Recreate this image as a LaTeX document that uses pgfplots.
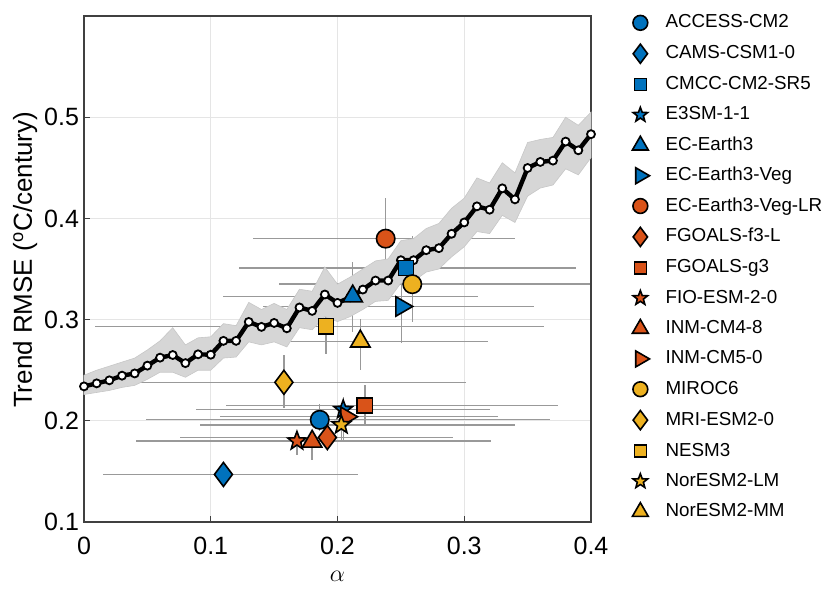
\documentclass[border=0pt]{standalone}
\usepackage{fontspec}
\setmainfont{Liberation Sans}
\usepackage{pgfplots}
\pgfplotsset{compat=1.18}
\usepackage{pgfplotstable}

\definecolor{cblue}{RGB}{0,114,189}
\definecolor{corange}{RGB}{217,83,25}
\definecolor{cyellow}{RGB}{237,177,32}

% filled five-pointed star (MATLAB pentagram)
\pgfdeclareplotmark{pstar}{%
  \pgfpathmoveto{\pgfpointpolar{90}{\pgfplotmarksize}}%
  \pgfpathlineto{\pgfpointpolar{126}{0.42\pgfplotmarksize}}%
  \pgfpathlineto{\pgfpointpolar{162}{\pgfplotmarksize}}%
  \pgfpathlineto{\pgfpointpolar{198}{0.42\pgfplotmarksize}}%
  \pgfpathlineto{\pgfpointpolar{234}{\pgfplotmarksize}}%
  \pgfpathlineto{\pgfpointpolar{270}{0.42\pgfplotmarksize}}%
  \pgfpathlineto{\pgfpointpolar{306}{\pgfplotmarksize}}%
  \pgfpathlineto{\pgfpointpolar{342}{0.42\pgfplotmarksize}}%
  \pgfpathlineto{\pgfpointpolar{18}{\pgfplotmarksize}}%
  \pgfpathlineto{\pgfpointpolar{54}{0.42\pgfplotmarksize}}%
  \pgfpathclose\pgfusepathqfillstroke}

% best-estimate curve
\pgfplotstableread{
x     y
0.00  0.2340
0.01  0.2370
0.02  0.2400
0.03  0.2446
0.04  0.2468
0.05  0.2545
0.06  0.2624
0.07  0.2650
0.08  0.2570
0.09  0.2657
0.10  0.2653
0.11  0.2790
0.12  0.2790
0.13  0.2977
0.14  0.2928
0.15  0.2967
0.16  0.2914
0.17  0.3120
0.18  0.3086
0.19  0.3248
0.20  0.3165
0.21  0.3220
0.22  0.3297
0.23  0.3386
0.24  0.3386
0.25  0.3587
0.26  0.3587
0.27  0.3686
0.28  0.3706
0.29  0.3848
0.30  0.3960
0.31  0.4119
0.32  0.4086
0.33  0.4297
0.34  0.4188
0.35  0.4498
0.36  0.4558
0.37  0.4571
0.38  0.4759
0.39  0.4673
0.40  0.4832
}\bestcurve

% model estimates: x, y and error bar half-widths (minus / plus)
\pgfplotstableread{
x       y       xm      xp      ym      yp
0.1860  0.2010  0.1370  0.1820  0.0110  0.0160
0.1100  0.1470  0.0950  0.1060  0.0000  0.0000
0.2540  0.3510  0.1320  0.1340  0.0210  0.0270
0.2045  0.2110  0.1165  0.1155  0.0310  0.0130
0.2120  0.3230  0.1020  0.0990  0.0350  0.0340
0.2505  0.3130  0.1095  0.1045  0.0360  0.0220
0.2380  0.3800  0.1045  0.1020  0.0350  0.0400
0.1920  0.1835  0.1160  0.0990  0.0135  0.0120
0.2216  0.2152  0.1096  0.1524  0.0192  0.0198
0.1680  0.1800  0.1270  0.1530  0.0140  0.0080
0.1800  0.1795  0.0960  0.0955  0.0185  0.0105
0.2070  0.2040  0.1000  0.1200  0.0100  0.0100
0.2590  0.3350  0.1050  0.1400  0.0370  0.0475
0.1577  0.2380  0.1577  0.1438  0.0254  0.0270
0.1910  0.2934  0.1820  0.1720  0.0274  0.0186
0.2030  0.1960  0.1115  0.1370  0.0150  0.0140
0.2180  0.2785  0.1180  0.1010  0.0280  0.0222
}\models

\pgfplotsset{
  mk/.style 2 args={only marks, mark=#1,
    mark options={fill=#2, draw=black, line width=0.8pt}},
  mkr/.style={only marks, mark=triangle*,
    mark options={fill=#1, draw=black, line width=0.8pt, rotate=-90}},
}

\begin{document}
\begin{tikzpicture}
\begin{axis}[
  scale only axis, width=253.5pt, height=253pt,
  xmin=0, xmax=0.4, ymin=0.1, ymax=0.6,
  xtick={0,0.1,0.2,0.3,0.4}, ytick={0.1,0.2,0.3,0.4,0.5},
  /pgf/number format/.cd, fixed, precision=1, assume math mode=true,
  /pgfplots/.cd,
  tick align=inside, tick pos=left, major tick length=3pt,
  grid=major, grid style={black!10, line width=0.5pt},
  axis line style={black!75, line width=0.8pt},
  tick style={black!75, line width=0.6pt},
  tick label style={font=\fontsize{12.5}{14}\selectfont},
  xticklabel style={yshift=-4pt},
  yticklabel style={xshift=1pt},
  xlabel={$\alpha$}, ylabel={Trend RMSE (\textsuperscript{o}C/century)},
  label style={font=\fontsize{13}{15}\selectfont},
  xlabel style={at={(axis description cs:0.5,-0.108)}, anchor=center},
  ylabel style={at={(axis description cs:-0.116,0.518)}, anchor=center},
  clip=false,
  legend cell align=left,
  legend style={at={(axis description cs:1.069,1.013)}, anchor=north west,
    draw=none, fill=none, font=\fontsize{9.4}{11}\selectfont,
    row sep=6.15pt, column sep=8pt,
    nodes={inner sep=0pt, text height=7pt, text depth=2pt}},
]
% error bars
\addplot[only marks, mark=none, forget plot,
  error bars/.cd, x dir=both, x explicit, y dir=both, y explicit,
  error mark=none, error bar style={black!40, line width=0.7pt}]
  table[x=x, y=y, x error minus=xm, x error plus=xp,
        y error minus=ym, y error plus=yp] {\models};

% spread of the ensemble
\addplot[draw=black!22, line width=0.3pt, fill=black!16, forget plot] coordinates {
(0.00,0.245) (0.01,0.250) (0.02,0.254) (0.03,0.258) (0.04,0.262) (0.05,0.270)
(0.06,0.279) (0.07,0.292) (0.08,0.275) (0.09,0.282) (0.10,0.283) (0.11,0.296)
(0.12,0.294) (0.13,0.317) (0.14,0.310) (0.15,0.316) (0.16,0.310) (0.17,0.330)
(0.18,0.328) (0.19,0.352) (0.20,0.335) (0.21,0.342) (0.22,0.350) (0.23,0.358)
(0.24,0.360) (0.25,0.378) (0.26,0.380) (0.27,0.390) (0.28,0.395) (0.29,0.410)
(0.30,0.420) (0.31,0.440) (0.32,0.435) (0.33,0.455) (0.34,0.445) (0.35,0.475)
(0.36,0.478) (0.37,0.480) (0.38,0.500) (0.39,0.492) (0.40,0.505)
(0.40,0.460) (0.39,0.443) (0.38,0.449) (0.37,0.433) (0.36,0.430) (0.35,0.422)
(0.34,0.396) (0.33,0.403) (0.32,0.385) (0.31,0.387) (0.30,0.372) (0.29,0.362)
(0.28,0.350) (0.27,0.347) (0.26,0.338) (0.25,0.336) (0.24,0.319) (0.23,0.318)
(0.22,0.310) (0.21,0.303) (0.20,0.298) (0.19,0.303) (0.18,0.290) (0.17,0.292)
(0.16,0.273) (0.15,0.278) (0.14,0.275) (0.13,0.278) (0.12,0.263) (0.11,0.262)
(0.10,0.250) (0.09,0.250) (0.08,0.243) (0.07,0.248) (0.06,0.248) (0.05,0.241)
(0.04,0.235) (0.03,0.233) (0.02,0.230) (0.01,0.228) (0.00,0.226)
} -- cycle;

% best estimate
\addplot[black, line width=2.2pt, mark=*, mark size=2pt,
  mark options={fill=white, draw=black, line width=0.9pt}, forget plot]
  table[x=x, y=y] {\bestcurve};

% models
\addplot[mk={*}{cblue}, mark size=4.6pt, forget plot] coordinates {(0.1860,0.2010)};
\addplot[mk={diamond*}{cblue}, mark size=6pt, forget plot] coordinates {(0.1100,0.1470)};
\addplot[mk={square*}{cblue}, mark size=3.8pt, forget plot] coordinates {(0.2540,0.3510)};
\addplot[mk={pstar}{cblue}, mark size=4.8pt, forget plot] coordinates {(0.2045,0.2110)};
\addplot[mk={triangle*}{cblue}, mark size=5.6pt, forget plot] coordinates {(0.2120,0.3230)};
\addplot[mkr=cblue, mark size=5.6pt, forget plot] coordinates {(0.2505,0.3130)};
\addplot[mk={*}{corange}, mark size=4.6pt, forget plot] coordinates {(0.2380,0.3800)};
\addplot[mk={diamond*}{corange}, mark size=6pt, forget plot] coordinates {(0.1920,0.1835)};
\addplot[mk={square*}{corange}, mark size=3.8pt, forget plot] coordinates {(0.2216,0.2152)};
\addplot[mk={pstar}{corange}, mark size=4.8pt, forget plot] coordinates {(0.1680,0.1800)};
\addplot[mk={triangle*}{corange}, mark size=5.6pt, forget plot] coordinates {(0.1800,0.1795)};
\addplot[mkr=corange, mark size=5.6pt, forget plot] coordinates {(0.2070,0.2040)};
\addplot[mk={*}{cyellow}, mark size=4.6pt, forget plot] coordinates {(0.2590,0.3350)};
\addplot[mk={diamond*}{cyellow}, mark size=6pt, forget plot] coordinates {(0.1577,0.2380)};
\addplot[mk={square*}{cyellow}, mark size=3.8pt, forget plot] coordinates {(0.1910,0.2934)};
\addplot[mk={pstar}{cyellow}, mark size=4.8pt, forget plot] coordinates {(0.2030,0.1960)};
\addplot[mk={triangle*}{cyellow}, mark size=5.6pt, forget plot] coordinates {(0.2180,0.2785)};

% legend
\addlegendimage{mk={*}{cblue}, mark size=3.7pt}\addlegendentry{ACCESS-CM2}
\addlegendimage{mk={diamond*}{cblue}, mark size=4.8pt}\addlegendentry{CAMS-CSM1-0}
\addlegendimage{mk={square*}{cblue}, mark size=3pt}\addlegendentry{CMCC-CM2-SR5}
\addlegendimage{mk={pstar}{cblue}, mark size=3.8pt}\addlegendentry{E3SM-1-1}
\addlegendimage{mk={triangle*}{cblue}, mark size=4.6pt}\addlegendentry{EC-Earth3}
\addlegendimage{mkr=cblue, mark size=4.6pt}\addlegendentry{EC-Earth3-Veg}
\addlegendimage{mk={*}{corange}, mark size=3.7pt}\addlegendentry{EC-Earth3-Veg-LR}
\addlegendimage{mk={diamond*}{corange}, mark size=4.8pt}\addlegendentry{FGOALS-f3-L}
\addlegendimage{mk={square*}{corange}, mark size=3pt}\addlegendentry{FGOALS-g3}
\addlegendimage{mk={pstar}{corange}, mark size=3.8pt}\addlegendentry{FIO-ESM-2-0}
\addlegendimage{mk={triangle*}{corange}, mark size=4.6pt}\addlegendentry{INM-CM4-8}
\addlegendimage{mkr=corange, mark size=4.6pt}\addlegendentry{INM-CM5-0}
\addlegendimage{mk={*}{cyellow}, mark size=3.7pt}\addlegendentry{MIROC6}
\addlegendimage{mk={diamond*}{cyellow}, mark size=4.8pt}\addlegendentry{MRI-ESM2-0}
\addlegendimage{mk={square*}{cyellow}, mark size=3pt}\addlegendentry{NESM3}
\addlegendimage{mk={pstar}{cyellow}, mark size=3.8pt}\addlegendentry{NorESM2-LM}
\addlegendimage{mk={triangle*}{cyellow}, mark size=4.6pt}\addlegendentry{NorESM2-MM}

\coordinate (ll) at (rel axis cs:0,0);
\end{axis}
\pgfresetboundingbox
\path[use as bounding box] (ll) ++(-42pt,-33.5pt) rectangle ++(415pt,294.5pt);
\end{tikzpicture}
\end{document}
